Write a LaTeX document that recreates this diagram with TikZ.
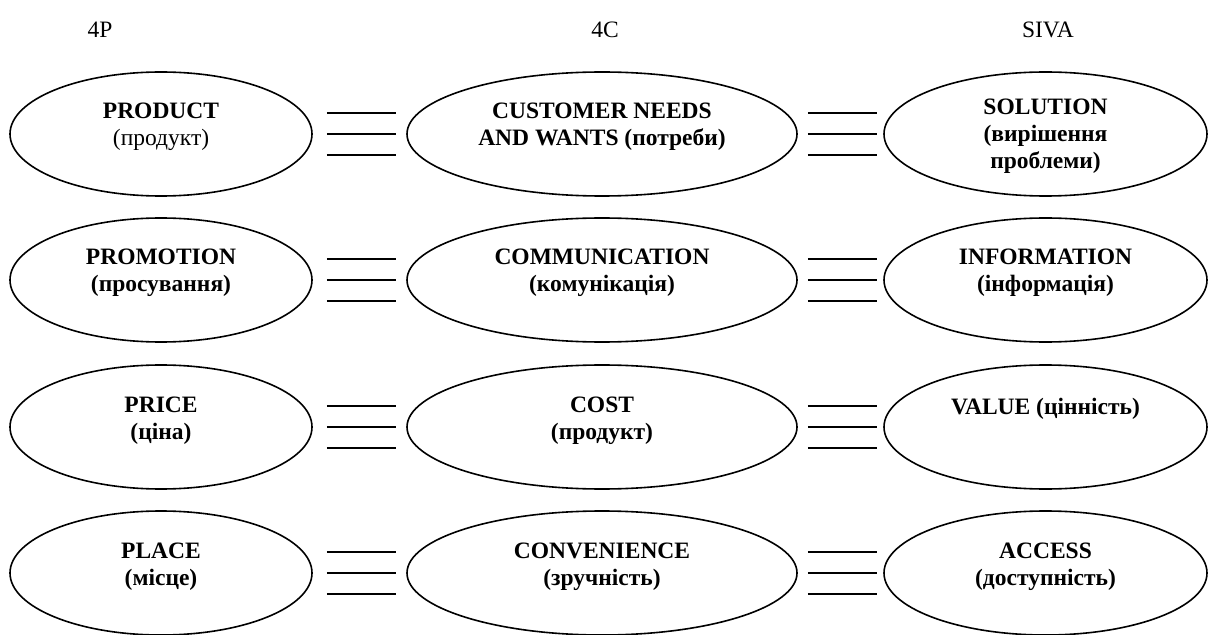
\documentclass[tikz,border=0pt]{standalone}
\usepackage{fontspec}
\setmainfont{Liberation Serif}
\usetikzlibrary{shapes.geometric,calc}
\tikzset{
  ell/.style={draw, shape=ellipse, line width=1.6bp, inner sep=0pt, minimum height=124bp},
  lbl/.style={anchor=base, inner sep=0pt, font=\fontsize{23.5bp}{27bp}\selectfont\bfseries},
  head/.style={anchor=base, inner sep=0pt, font=\fontsize{23.5bp}{27bp}\selectfont},
  link/.style={line width=2bp}
}
\newcommand{\twol}[2]{\begin{tabular}[t]{@{}c@{}}#1\\#2\end{tabular}}
\newcommand{\threel}[3]{\begin{tabular}[t]{@{}c@{}}#1\\#2\\#3\end{tabular}}
\begin{document}
\begin{tikzpicture}[x=1bp,y=-1bp]
\useasboundingbox (0,0) rectangle (1211,635);
% headings
\node[head] (h1) at (100,38) {4P};
\node[head] (h2) at (605,38) {4C};
\node[head] (h3) at (1048,38) {SIVA};
% ellipses
\foreach \r/\y in {1/134,2/280,3/427,4/573}{
  \node[ell, minimum width=302bp] (a\r) at (161,\y) {};
  \node[ell, minimum width=390bp] (b\r) at (602,\y) {};
  \node[ell, minimum width=323bp] (c\r) at (1045.5,\y) {};
}
% texts
\node[lbl] (ta1) at ($(a1.center)+(0,-15)$) {\twol{PRODUCT}{\mdseries(продукт)}};
\node[lbl] (tb1) at ($(b1.center)+(0,-15)$) {\twol{CUSTOMER NEEDS}{AND WANTS (потреби)}};
\node[lbl] (tc1) at ($(c1.center)+(0,-19)$) {\threel{SOLUTION}{(вирішення}{проблеми)}};
\node[lbl] (ta2) at ($(a2.center)+(0,-15)$) {\twol{PROMOTION}{(просування)}};
\node[lbl] (tb2) at ($(b2.center)+(0,-15)$) {\twol{COMMUNICATION}{(комунікація)}};
\node[lbl] (tc2) at ($(c2.center)+(0,-15)$) {\twol{INFORMATION}{(інформація)}};
\node[lbl] (ta3) at ($(a3.center)+(0,-15)$) {\twol{PRICE}{(ціна)}};
\node[lbl] (tb3) at ($(b3.center)+(0,-15)$) {\twol{COST}{(продукт)}};
\node[lbl] (tc3) at ($(c3.center)+(0,-13)$) {VALUE (цінність)};
\node[lbl] (ta4) at ($(a4.center)+(0,-15)$) {\twol{PLACE}{(місце)}};
\node[lbl] (tb4) at ($(b4.center)+(0,-15)$) {\twol{CONVENIENCE}{(зручність)}};
\node[lbl] (tc4) at ($(c4.center)+(0,-15)$) {\twol{ACCESS}{(доступність)}};
% connectors (triple lines)
\foreach \r in {1,2,3,4}{
  \foreach \d in {-21,0,21}{
    \draw[link] ($(a\r.east)+(14,\d)$) -- ($(b\r.west)+(-10,\d)$);
    \draw[link] ($(b\r.east)+(10,\d)$) -- ($(c\r.west)+(-6,\d)$);
  }
}
\end{tikzpicture}
\end{document}
